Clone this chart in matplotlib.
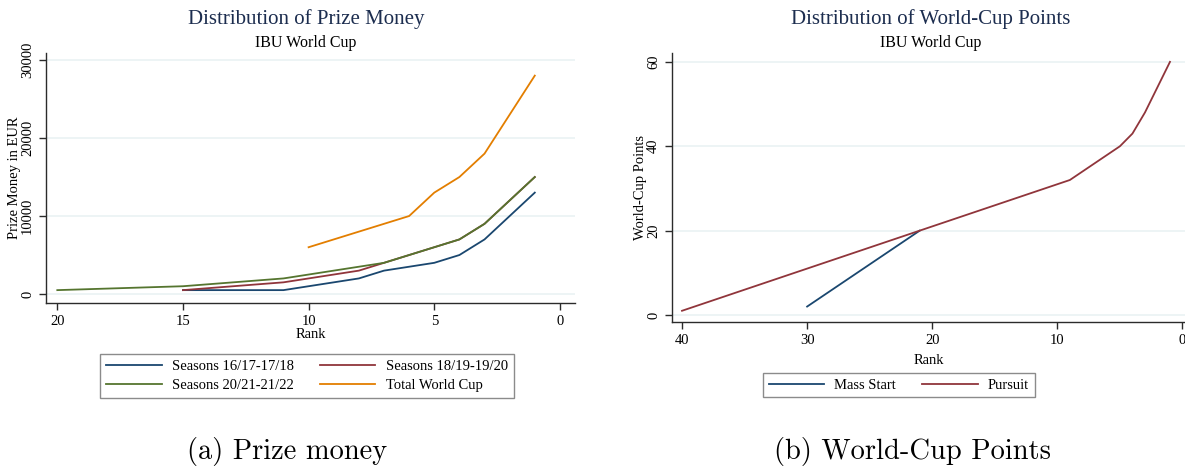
import matplotlib
matplotlib.use("Agg")
import matplotlib.pyplot as plt

# ---- data: left panel (prize money) ----
rank_1618 = [15, 14, 13, 12, 11, 10, 9, 8, 7, 6, 5, 4, 3, 2, 1]
prize_1618 = [500, 500, 500, 500, 500, 1000, 1500, 2000, 3000, 3500, 4000, 5000, 7000, 10000, 13000]

rank_1820 = [15, 14, 13, 12, 11, 10, 9, 8, 7, 6, 5, 4, 3, 2, 1]
prize_1820 = [500, 750, 1000, 1250, 1500, 2000, 2500, 3000, 4000, 5000, 6000, 7000, 9000, 12000, 15000]

rank_2022 = [20, 19, 18, 17, 16, 15, 14, 13, 12, 11, 10, 9, 8, 7, 6, 5, 4, 3, 2, 1]
prize_2022 = [500, 600, 700, 800, 900, 1000, 1250, 1500, 1750, 2000, 2500, 3000, 3500, 4000, 5000, 6000, 7000, 9000, 12000, 15000]

rank_total = [10, 9, 8, 7, 6, 5, 4, 3, 2, 1]
prize_total = [6000, 7000, 8000, 9000, 10000, 13000, 15000, 18000, 23000, 28000]

# ---- data: right panel (world-cup points) ----
rank_mass = [30, 29, 28, 27, 26, 25, 24, 23, 22, 21]
points_mass = [2, 4, 6, 8, 10, 12, 14, 16, 18, 20]

rank_pursuit = [40, 21, 9, 5, 4, 3, 2, 1]
points_pursuit = [1, 20, 32, 40, 43, 48, 54, 60]

left_xticks = [20, 15, 10, 5, 0]
left_yticks = [0, 10000, 20000, 30000]
right_xticks = [40, 30, 20, 10, 0]
right_yticks = [0, 20, 40, 60]

C_BLUE = "#1a476f"
C_RED = "#90353b"
C_GREEN = "#55752f"
C_ORANGE = "#e37e00"
C_TITLE = "#1c2d4f"
C_GRID = "#eaf2f3"
C_AXIS = "#2b2b2b"

SERIF = ["Liberation Serif", "DejaVu Serif"]
plt.rcParams["font.family"] = SERIF

W, H = 1185, 467
fig = plt.figure(figsize=(W / 100, H / 100), dpi=100)


def style_axes(ax):
    for s in ["top", "right"]:
        ax.spines[s].set_visible(False)
    for s in ["left", "bottom"]:
        ax.spines[s].set_color(C_AXIS)
        ax.spines[s].set_linewidth(1.0)
    ax.tick_params(axis="both", direction="out", length=5, width=1.0, color=C_AXIS,
                   labelsize=10.5, labelcolor="black")
    ax.tick_params(axis="y", labelrotation=90)
    for lab in ax.get_yticklabels():
        lab.set_va("center")
    ax.grid(axis="y", color=C_GRID, linewidth=1.2)
    ax.set_axisbelow(True)


def px_axes(x0, y0, x1, y1):
    return fig.add_axes([x0 / W, 1 - y1 / H, (x1 - x0) / W, (y1 - y0) / H])


LEG_KW = dict(fontsize=10.5, frameon=True, fancybox=False, handlelength=3.8,
              columnspacing=1.8, handletextpad=0.7, borderpad=0.4,
              labelspacing=0.4, borderaxespad=0)

# ---- left panel ----
ax1 = px_axes(46, 53, 575, 303)
ax1.plot(rank_1618, prize_1618, color=C_BLUE, lw=1.3, label="Seasons 16/17-17/18")
ax1.plot(rank_1820, prize_1820, color=C_RED, lw=1.3, label="Seasons 18/19-19/20")
ax1.plot(rank_2022, prize_2022, color=C_GREEN, lw=1.3, label="Seasons 20/21-21/22")
ax1.plot(rank_total, prize_total, color=C_ORANGE, lw=1.3, label="Total World Cup")
ax1.set_xlim(20.45, -0.6)
ax1.set_ylim(-1150, 30900)
ax1.set_xticks(left_xticks)
ax1.set_yticks(left_yticks)
style_axes(ax1)
ax1.set_xlabel("Rank", fontsize=10.5, labelpad=0)
ax1.set_ylabel("Prize Money in EUR", fontsize=10.5, labelpad=0)

fig.text(306 / W, 1 - 19 / H, "Distribution of Prize Money", ha="center", va="center",
         fontsize=15, color=C_TITLE)
fig.text(306 / W, 1 - 43 / H, "IBU World Cup", ha="center", va="center",
         fontsize=11.5, color="black")

h1, l1 = ax1.get_legend_handles_labels()
order = [0, 2, 1, 3]
leg1 = fig.legend([h1[i] for i in order], [l1[i] for i in order], ncol=2,
                  loc="center", bbox_to_anchor=(307 / W, 1 - 376 / H), **LEG_KW)
leg1.get_frame().set_edgecolor("#6e6e6e")
leg1.get_frame().set_linewidth(1.0)

# ---- right panel ----
ax2 = px_axes(672, 53, 1185, 322)
ax2.plot(rank_mass, points_mass, color=C_BLUE, lw=1.3, label="Mass Start")
ax2.plot(rank_pursuit, points_pursuit, color=C_RED, lw=1.3, label="Pursuit")
ax2.set_xlim(40.8, -0.2)
ax2.set_ylim(-1.66, 62.1)
ax2.set_xticks(right_xticks)
ax2.set_yticks(right_yticks)
style_axes(ax2)
ax2.set_xlabel("Rank", fontsize=10.5, labelpad=5)
ax2.set_ylabel("World-Cup Points", fontsize=10.5, labelpad=0)

fig.text(931 / W, 1 - 19 / H, "Distribution of World-Cup Points", ha="center", va="center",
         fontsize=15, color=C_TITLE)
fig.text(931 / W, 1 - 43 / H, "IBU World Cup", ha="center", va="center",
         fontsize=11.5, color="black")

h2, l2 = ax2.get_legend_handles_labels()
leg2 = fig.legend(h2, l2, ncol=2, loc="center", bbox_to_anchor=(899 / W, 1 - 385 / H),
                  **LEG_KW)
leg2.get_frame().set_edgecolor("#6e6e6e")
leg2.get_frame().set_linewidth(1.0)

# ---- captions ----
fig.text(287 / W, 1 - 451 / H, "(a) Prize money", ha="center", va="center",
         fontsize=20.5, family=["cmr10", "DejaVu Serif"])
fig.text(912 / W, 1 - 451 / H, "(b) World-Cup Points", ha="center", va="center",
         fontsize=20.5, family=["cmr10", "DejaVu Serif"])

fig.savefig("out.png", dpi=100)
